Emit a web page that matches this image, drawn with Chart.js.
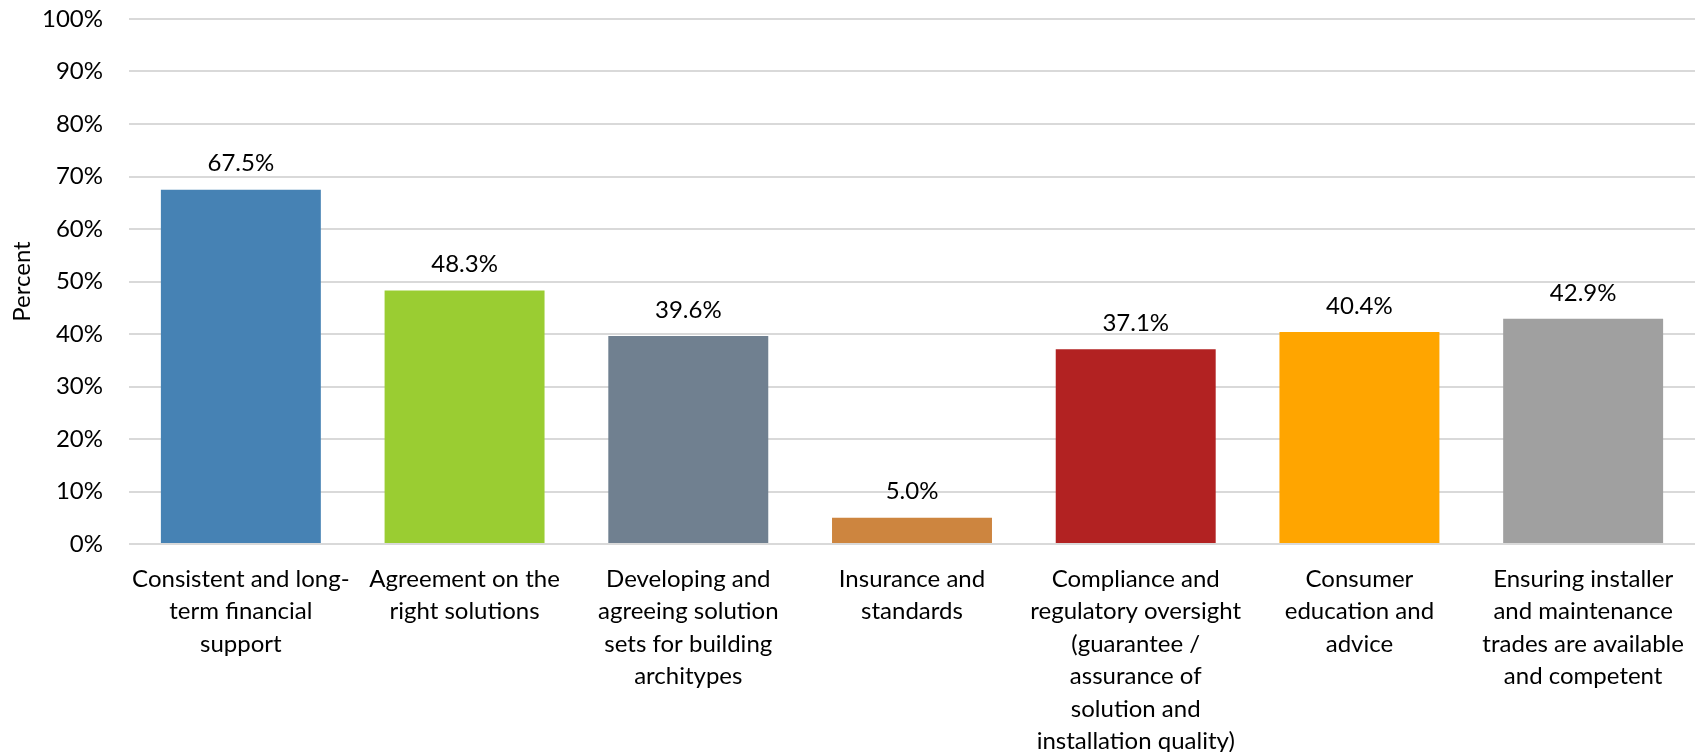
<!DOCTYPE html>
<html>
<head>
<meta charset="utf-8">
<script src="https://cdn.jsdelivr.net/npm/chart.js@4"></script>
<style>
  html, body { margin: 0; padding: 0; background: #ffffff; }
  #wrap { width: 1706px; height: 752px; position: relative; }
</style>
</head>
<body>
<div id="wrap"><canvas id="c"></canvas></div>
<script>
const categories = [
  ["Consistent and long-", "term financial", "support"],
  ["Agreement on the", "right solutions"],
  ["Developing and", "agreeing solution", "sets for building", "architypes"],
  ["Insurance and", "standards"],
  ["Compliance and", "regulatory oversight", "(guarantee /", "assurance of", "solution and", "installation quality)"],
  ["Consumer", "education and", "advice"],
  ["Ensuring installer", "and maintenance", "trades are available", "and competent"]
];
const values = [67.5, 48.3, 39.6, 5.0, 37.1, 40.4, 42.9];
const barColors = ["#4682B4", "#9ACD32", "#708090", "#CD853F", "#B22222", "#FFA500", "#A0A0A0"];
const yTicks = [0, 10, 20, 30, 40, 50, 60, 70, 80, 90, 100];
const axisTitle = "Percent";

const FONT = "Lato, 'Open Sans', sans-serif";
const FS = 24;

const barLabels = {
  id: 'barLabels',
  afterDatasetsDraw(chart) {
    const ctx = chart.ctx;
    const meta = chart.getDatasetMeta(0);
    ctx.save();
    ctx.font = FS + "px " + FONT;
    ctx.fillStyle = "#000000";
    ctx.textAlign = "center";
    ctx.textBaseline = "middle";
    meta.data.forEach((bar, i) => {
      ctx.fillText(values[i].toFixed(1) + "%", bar.x, bar.y - 26);
    });
    ctx.restore();
  }
};

new Chart(document.getElementById('c'), {
  type: 'bar',
  data: {
    labels: categories,
    datasets: [{
      data: values,
      backgroundColor: barColors,
      borderWidth: 0,
      barPercentage: 0.715,
      categoryPercentage: 1.0
    }]
  },
  plugins: [barLabels],
  options: {
    responsive: true,
    maintainAspectRatio: false,
    animation: false,
    layout: { padding: { top: 19, right: 11, left: 0, bottom: 0 } },
    plugins: {
      legend: { display: false },
      tooltip: { enabled: false },
      title: { display: false }
    },
    scales: {
      x: {
        grid: { display: false, drawTicks: false },
        border: { display: false },
        ticks: {
          color: "#000000",
          font: { family: FONT, size: FS, lineHeight: 1.354 },
          padding: 19,
          maxRotation: 0,
          minRotation: 0,
          autoSkip: false
        },
        afterFit(scale) {
          scale.height = 208;
          scale.paddingLeft = 0;
          scale.paddingRight = 0;
        }
      },
      y: {
        min: 0,
        max: 100,
        afterBuildTicks(scale) { scale.ticks = yTicks.map(v => ({ value: v })); },
        grid: { color: "#d9d9d9", lineWidth: 2, drawTicks: false },
        border: { display: false },
        ticks: {
          color: "#000000",
          font: { family: FONT, size: FS },
          padding: 26,
          callback: (v) => v + "%"
        },
        title: {
          display: true,
          text: axisTitle,
          color: "#000000",
          font: { family: FONT, size: FS },
          padding: { top: 8, bottom: 0 }
        },
        afterFit(scale) {
          scale.width = 129;
          scale.paddingTop = 0;
          scale.paddingBottom = 0;
        }
      }
    }
  }
});
</script>
</body>
</html>
